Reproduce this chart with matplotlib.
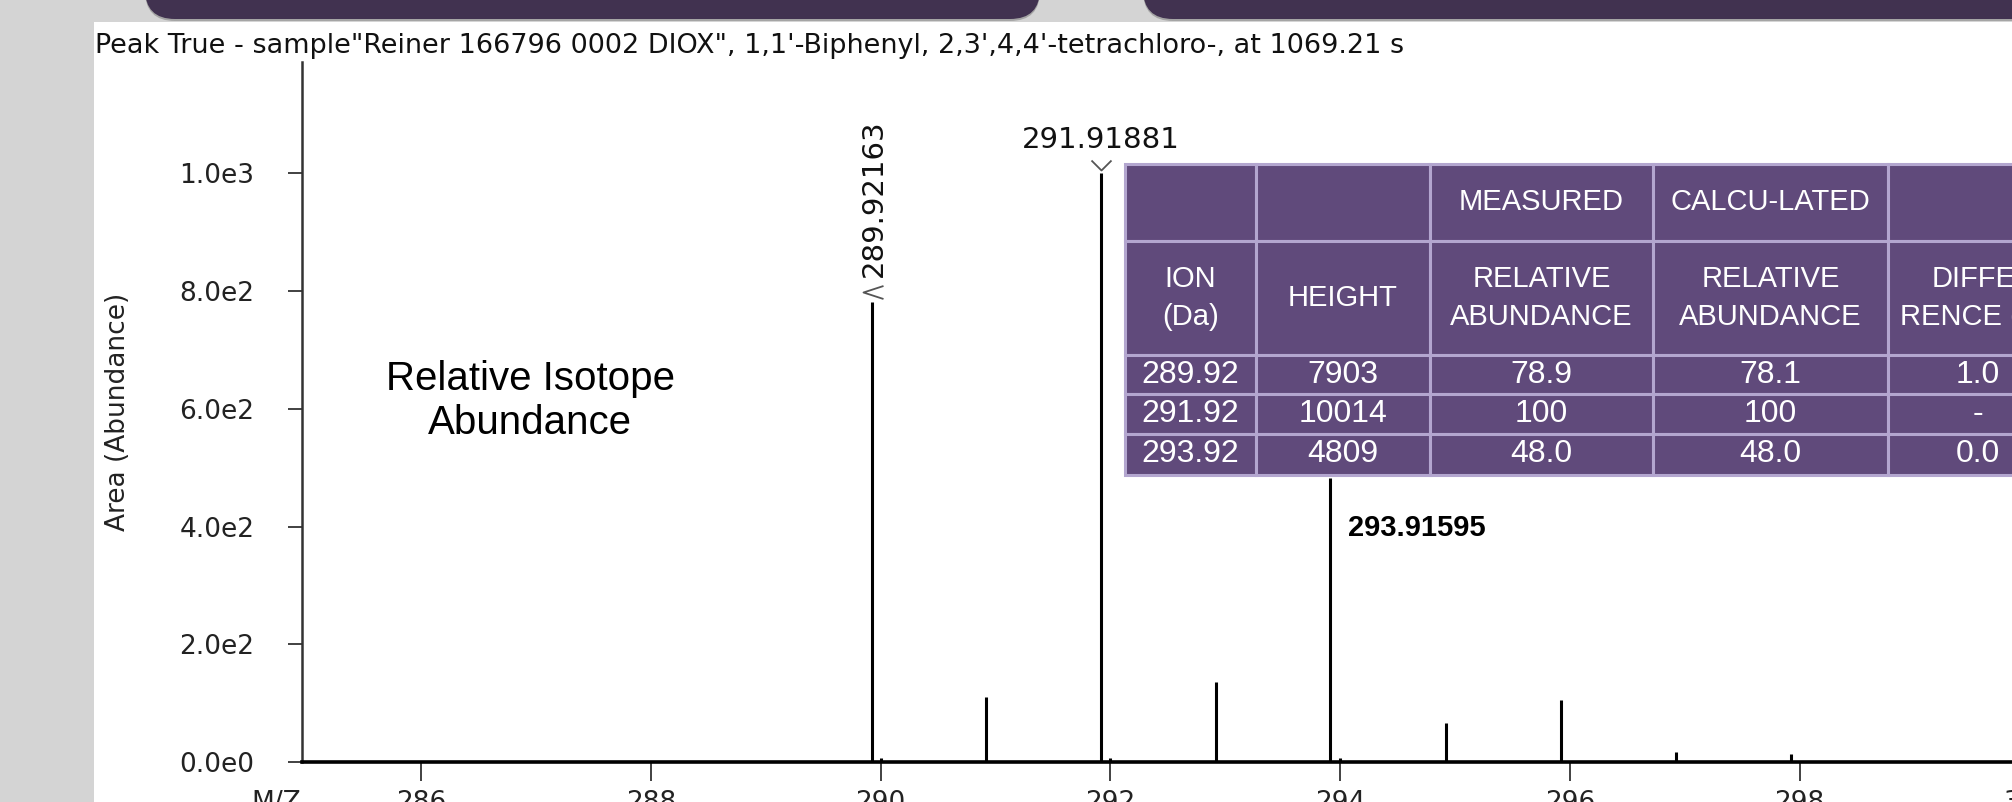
import matplotlib
matplotlib.use("Agg")
import matplotlib.pyplot as plt
import matplotlib.transforms as mtransforms
from matplotlib.patches import Rectangle, FancyBboxPatch
from matplotlib.path import Path
from matplotlib.ticker import FuncFormatter
import numpy as np

# peaks of the mass spectrum (m/z, area)
mz = [289.92163, 290.00, 290.92, 291.91881, 292.00, 292.92,
      293.91595, 294.00, 294.92, 295.92, 296.92, 297.92]
area = [782, 7, 111, 1000, 7, 136, 482, 7, 66, 105, 17, 14]

# the three labelled peaks
lab_mz = [289.92163, 291.91881, 293.91595]
lab_area = [782, 1000, 482]

y_ticks = [0, 200, 400, 600, 800, 1000]
x_ticks = [286, 288, 290, 292, 294, 296, 298, 300]

title = ('Peak True - sample"Reiner 166796 0002 DIOX", 1,1\'-Biphenyl, '
         '2,3\',4,4\'-tetrachloro-, at 1069.21 s')

# table values
tab_head1 = ["", "", "MEASURED", "CALCU-LATED", ""]
tab_head2 = ["ION\n(Da)", "HEIGHT", "RELATIVE\nABUNDANCE", "RELATIVE\nABUNDANCE", "DIFFE-\nRENCE (%)"]
ion = ["289.92", "291.92", "293.92"]
height = ["7903", "10014", "4809"]
meas = ["78.9", "100", "48.0"]
calc = ["78.1", "100", "48.0"]
diff = ["1.0", "-", "0.0"]

W, H = 2012, 802
fig = plt.figure(figsize=(W / 100, H / 100), dpi=100, facecolor="#d4d4d4")
px = mtransforms.IdentityTransform()

# slide background: white panel and the two dark banners at the top
fig.add_artist(Rectangle((94, 0), W - 94, H - 22, transform=px,
                         facecolor="white", edgecolor="none", zorder=-3))
for x0, x1 in [(145, 1040), (1143, W + 60)]:
    fig.add_artist(FancyBboxPatch((x0, H - 21), x1 - x0, 120, transform=px,
                                  boxstyle="round,pad=0,rounding_size=30",
                                  facecolor="#a5a5a5", edgecolor="none", zorder=-2))
    fig.add_artist(FancyBboxPatch((x0, H - 19), x1 - x0, 120, transform=px,
                                  boxstyle="round,pad=0,rounding_size=30",
                                  facecolor="#413250", edgecolor="none", zorder=-1))

ax = fig.add_axes([301.5 / W, 40 / H, 1751 / W, 700 / H])
ax.patch.set_alpha(0)
ax.vlines(mz, 0, area, colors="black", linewidth=2.2)
ax.set_xlim(284.96, 300.2)
ax.set_ylim(0, 1189)

for s in ["top", "right"]:
    ax.spines[s].set_visible(False)
ax.spines["left"].set_color("#333333")
ax.spines["left"].set_linewidth(1.8)
ax.spines["bottom"].set_color("black")
ax.spines["bottom"].set_linewidth(2.6)


def sci(v, pos):
    if v == 0:
        return "0.0e0"
    e = int(np.floor(np.log10(v)))
    return f"{v / 10 ** e:.1f}e{e}"


ax.set_yticks(y_ticks)
ax.yaxis.set_major_formatter(FuncFormatter(sci))
ax.set_xticks(x_ticks)
ax.tick_params(axis="y", length=10, width=1.3, pad=24, labelsize=19,
               color="#333333", labelcolor="#222222")
ax.tick_params(axis="x", length=13.7, width=1.3, pad=6.5, labelsize=19,
               color="#333333", labelcolor="#222222")

# chevrons on top of the labelled peaks
codes = [Path.MOVETO, Path.LINETO, Path.LINETO]
v_mark = Path([(-1, 1), (0, 0), (1, 1)], codes)
l_mark = Path([(2, 0.65), (0, 0), (2, -0.65)], codes)
ax.plot([lab_mz[1]], [lab_area[1]], ls="none", marker=v_mark, markersize=14.4,
        mfc="none", mec="#555555", mew=1.3, clip_on=False,
        transform=mtransforms.offset_copy(ax.transData, fig=fig, x=0, y=3, units="dots"))
ax.plot([lab_mz[0]], [lab_area[0]], ls="none", marker=l_mark, markersize=28.8,
        mfc="none", mec="#555555", mew=1.3, clip_on=False,
        transform=mtransforms.offset_copy(ax.transData, fig=fig, x=-9, y=10, units="dots"))

ax.annotate(f"{lab_mz[0]:.5f}", xy=(lab_mz[0], lab_area[0]), xytext=(2, 25),
            textcoords="offset pixels", rotation=90, ha="center", va="bottom",
            fontsize=21, color="#111111", annotation_clip=False)
ax.annotate(f"{lab_mz[1]:.5f}", xy=(lab_mz[1], lab_area[1]), xytext=(0, 25),
            textcoords="offset pixels", ha="center", va="baseline",
            fontsize=21, color="#111111", annotation_clip=False)
ax.annotate(f"{lab_mz[2]:.5f}", xy=(lab_mz[2], lab_area[2]), xytext=(18, -58),
            textcoords="offset pixels", ha="left", va="baseline",
            fontsize=21, fontweight="bold", family="Liberation Sans", color="black")

ax.text(0.1305, 0.515, "Relative Isotope\nAbundance", transform=ax.transAxes,
        ha="center", va="center", fontsize=29, family="Liberation Sans",
        linespacing=1.2, color="black")

fig.text(118 / W, 1 - 412 / H, "Area (Abundance)", rotation=90, ha="center",
         va="center", fontsize=19, color="#222222")
fig.text(301 / W, 1 - 790 / H, "M/Z", ha="right", va="top", fontsize=19, color="#222222")
t = fig.text(95 / W, 1 - 53 / H, title, ha="left", va="baseline", fontsize=20, color="#111111")

# isotope table
tax = fig.add_axes([0, 0, 1, 1], zorder=3)
tax.axis("off")
cells = [tab_head1, tab_head2] + [list(r) for r in zip(ion, height, meas, calc, diff)]
col_w = [131, 174, 223, 235, 180]
row_h = [77, 114, 39, 40, 41]
tb = tax.table(cellText=cells, colWidths=[w / sum(col_w) for w in col_w],
               cellLoc="center",
               bbox=[1125 / W, (H - 475) / H, sum(col_w) / W, sum(row_h) / H])
tb.auto_set_font_size(False)
for (r, c), cell in tb.get_celld().items():
    cell.set_height(row_h[r] / sum(row_h))
    cell.set_facecolor("#604a7b")
    cell.set_edgecolor("#b3a6cf")
    cell.set_linewidth(2.2)
    txt = cell.get_text()
    txt.set_color("white")
    txt.set_fontsize(21 if r < 2 else 23)
    txt.set_family("Liberation Sans")
    if r == 1:
        txt.set_linespacing(1.45)

# fit the title to its width in the reference
fig.canvas.draw()
bb = t.get_window_extent(fig.canvas.get_renderer())
t.set_fontsize(20 * 1308 / bb.width)

fig.savefig("out.png", dpi=100, facecolor=fig.get_facecolor())
